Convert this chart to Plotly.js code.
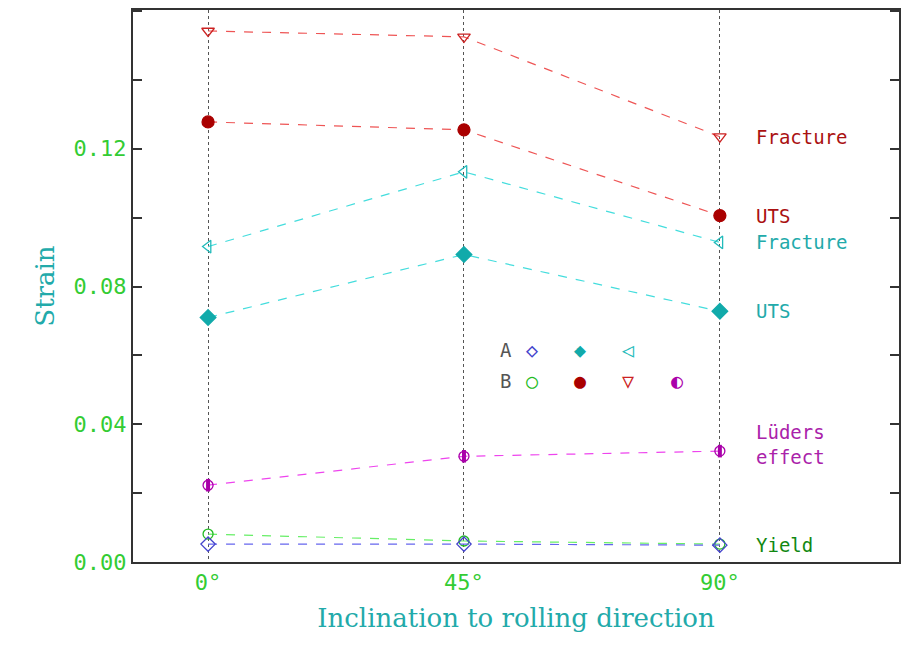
<!DOCTYPE html>
<html>
<head>
<script src="https://cdn.plot.ly/plotly-3.0.1.min.js"></script>
<style>body{margin:0;background:#fff}</style>
</head>
<body>
<div id="chart" style="width:905px;height:651px"></div>
<script>
// inclination angles (degrees) and strain values
var angles = [0, 45, 90];
var tickLabels = ['0°', '45°', '90°'];
var strainTicks = [0, 0.04, 0.08, 0.12, 0.16];
var fractureB = [0.1542, 0.1525, 0.1235];
var utsB = [0.1278, 0.1255, 0.1006];
var fractureA = [0.0916, 0.1133, 0.0928];
var utsA = [0.0710, 0.0893, 0.0728];
var luders = [0.0223, 0.0307, 0.0322];
var yieldB = [0.0081, 0.0061, 0.0052];
var yieldA = [0.0052, 0.0052, 0.0049];

function series(y, lineColor, symbol, markColor, size){
	return {
		x: angles, y: y, mode: 'lines+markers', type: 'scatter',
		line: {color: lineColor, dash: 'dash', width: 1.2},
		marker: {symbol: symbol, color: markColor, size: size, line: {color: markColor, width: 1.3}},
		hoverinfo: 'y'
	};
}

var data = [
	series(yieldB, '#66ee66', 'circle-open', '#22bb22', 10),
	series(yieldA, '#6666ee', 'diamond-open', '#4444cc', 11),
	series(luders, '#ee44ee', 'circle-open', '#aa00aa', 10),
	{x: angles, y: luders, mode: 'markers', type: 'scatter',
	 marker: {symbol: 'line-ns', size: 9, line: {color: '#aa00aa', width: 4}}, hoverinfo: 'skip'},
	series(utsA, '#44dddd', 'diamond', '#11aaaa', 12),
	series(fractureA, '#44dddd', 'triangle-left-open', '#22bbbb', 11),
	series(utsB, '#ee5555', 'circle', '#aa0000', 12),
	series(fractureB, '#ee5555', 'triangle-down-open', '#cc2222', 11)
];

var mono = 'DejaVu Sans Mono';
function label(x, y, text, color, size){
	return {x: x, y: y, xref: 'x', yref: 'y', text: text, showarrow: false,
		xanchor: 'left', font: {family: mono, size: size || 19, color: color}};
}

var annotations = [
	label(96, 0.1235, 'Fracture', '#aa1111'),
	label(96, 0.1006, 'UTS', '#aa1111'),
	label(96, 0.0928, 'Fracture', '#22aaaa'),
	label(96, 0.0728, 'UTS', '#22aaaa'),
	label(96, 0.0340, 'Lüders<br>effect', '#aa22aa'),
	label(96, 0.0048, 'Yield', '#118811'),
	label(51, 0.0615, 'A', '#555555'),
	label(55.5, 0.0615, '◇', '#4444cc', 20),
	label(64, 0.0615, '◆', '#11aaaa', 20),
	label(72.5, 0.0615, '◁', '#22bbbb', 20),
	label(51, 0.0525, 'B', '#555555'),
	label(55.5, 0.0525, '○', '#22bb22', 20),
	label(64, 0.0525, '●', '#aa0000', 20),
	label(72.5, 0.0525, '▽', '#cc2222', 20),
	label(81, 0.0525, '◐', '#aa00aa', 20)
];

var layout = {
	width: 905, height: 651,
	margin: {l: 133, r: 6, t: 10, b: 89},
	showlegend: false,
	paper_bgcolor: '#ffffff', plot_bgcolor: '#ffffff',
	annotations: annotations,
	xaxis: {
		range: [-13.2, 121.5], tickvals: angles, ticktext: tickLabels,
		showgrid: true, gridcolor: '#555555', griddash: 'dot', gridwidth: 1.3,
		zeroline: false, ticks: '', showline: true, mirror: true, linecolor: '#333333', linewidth: 2,
		tickfont: {family: mono, size: 22, color: '#33cc33'},
		title: {text: 'Inclination to rolling direction', standoff: 14,
			font: {family: 'DejaVu Serif', size: 26, color: '#22aaaa'}}
	},
	yaxis: {
		range: [0, 0.1603], tickvals: strainTicks, tickformat: '.2f',
		showgrid: false, zeroline: false, ticks: 'inside', ticklen: 9, tickwidth: 2, tickcolor: '#333333',
		minor: {dtick: 0.02, ticks: 'inside', ticklen: 9, tickwidth: 2, tickcolor: '#333333'},
		showline: true, mirror: 'ticks', linecolor: '#333333', linewidth: 2,
		tickfont: {family: mono, size: 22, color: '#33cc33'},
		title: {text: 'Strain', standoff: 12,
			font: {family: 'DejaVu Serif', size: 26, color: '#22aaaa'}}
	}
};

Plotly.newPlot('chart', data, layout, {displayModeBar: false});
</script>
</body>
</html>
